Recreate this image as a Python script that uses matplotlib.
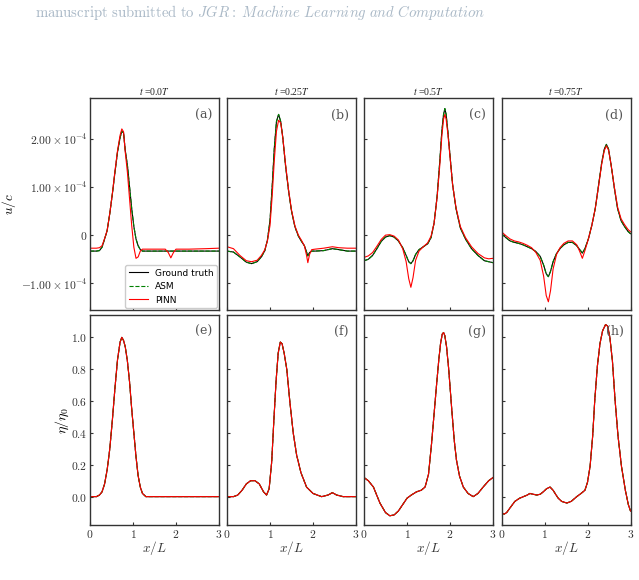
import numpy as np
import matplotlib
matplotlib.use('Agg')
import matplotlib.pyplot as plt

plt.rcParams['mathtext.fontset'] = 'cm'
plt.rcParams['font.family'] = 'DejaVu Serif'
plt.rcParams['axes.unicode_minus'] = True

# ---- donnees ----
titres = ['0.0', '0.25', '0.5', '0.75']
lettres_u = ['(a)', '(b)', '(c)', '(d)']
lettres_eta = ['(e)', '(f)', '(g)', '(h)']

# u/c (en 1e-4)
xa = [0, 0.15, 0.22, 0.28, 0.34, 0.40, 0.46, 0.52, 0.58, 0.64, 0.70, 0.74, 0.78, 0.82, 0.87,
      0.92, 0.97, 1.02, 1.07, 1.12, 1.17, 1.22, 1.30, 1.50, 1.75, 1.82, 1.88, 1.94, 2.00, 2.3, 2.7, 3.0]
ua_vrai = [-0.33, -0.33, -0.32, -0.25, -0.08, 0.10, 0.45, 0.85, 1.30, 1.72, 2.02, 2.15, 2.12, 1.75,
           1.45, 1.00, 0.55, 0.18, -0.08, -0.22, -0.30, -0.33, -0.33, -0.33, -0.33, -0.33, -0.33,
           -0.33, -0.33, -0.33, -0.33, -0.33]
ua_pinn = [-0.27, -0.27, -0.26, -0.22, -0.07, 0.10, 0.45, 0.86, 1.32, 1.75, 2.07, 2.20, 2.14, 1.72,
           1.30, 0.75, 0.20, -0.25, -0.48, -0.45, -0.33, -0.29, -0.29, -0.29, -0.29, -0.36, -0.47,
           -0.36, -0.29, -0.29, -0.28, -0.27]

xb = [0, 0.15, 0.30, 0.45, 0.57, 0.70, 0.80, 0.88, 0.94, 1.00, 1.05, 1.10, 1.15, 1.20, 1.25, 1.30,
      1.36, 1.43, 1.50, 1.58, 1.66, 1.74, 1.80, 1.85, 1.88, 1.92, 1.97, 2.05, 2.25, 2.45, 2.60, 2.80, 3.0]
ub_vrai = [-0.33, -0.35, -0.45, -0.56, -0.59, -0.55, -0.45, -0.32, -0.10, 0.30, 1.00, 1.80, 2.35,
           2.50, 2.35, 2.00, 1.45, 0.93, 0.50, 0.17, -0.02, -0.14, -0.22, -0.35, -0.43, -0.36, -0.33,
           -0.33, -0.32, -0.28, -0.30, -0.33, -0.33]
ub_pinn = [-0.24, -0.28, -0.42, -0.53, -0.55, -0.52, -0.42, -0.30, -0.12, 0.20, 0.80, 1.55, 2.15,
           2.38, 2.32, 2.00, 1.48, 0.95, 0.52, 0.19, 0.00, -0.12, -0.22, -0.42, -0.57, -0.40, -0.30,
           -0.29, -0.27, -0.24, -0.26, -0.27, -0.27]

xc = [0, 0.10, 0.20, 0.30, 0.40, 0.50, 0.60, 0.70, 0.80, 0.90, 0.98, 1.04, 1.09, 1.14, 1.20, 1.28,
      1.38, 1.48, 1.56, 1.63, 1.70, 1.76, 1.81, 1.85, 1.88, 1.91, 1.95, 2.00, 2.06, 2.14, 2.24, 2.36,
      2.50, 2.65, 2.80, 2.90, 3.0]
uc_vrai = [-0.53, -0.50, -0.42, -0.28, -0.13, -0.04, -0.01, -0.04, -0.12, -0.26, -0.42, -0.55, -0.59,
           -0.53, -0.40, -0.30, -0.24, -0.18, -0.05, 0.25, 0.80, 1.50, 2.15, 2.50, 2.62, 2.50, 2.15,
           1.65, 1.05, 0.55, 0.15, -0.08, -0.28, -0.42, -0.53, -0.55, -0.57]
uc_pinn = [-0.46, -0.43, -0.36, -0.23, -0.09, 0.00, 0.01, -0.02, -0.10, -0.28, -0.55, -0.90, -1.08,
           -0.88, -0.52, -0.33, -0.24, -0.16, -0.02, 0.25, 0.78, 1.42, 2.05, 2.40, 2.50, 2.40, 2.10,
           1.62, 1.05, 0.57, 0.18, -0.05, -0.24, -0.38, -0.47, -0.49, -0.48]

xd = [0, 0.10, 0.20, 0.30, 0.40, 0.50, 0.60, 0.70, 0.80, 0.90, 0.98, 1.04, 1.09, 1.14, 1.20, 1.28,
      1.36, 1.45, 1.55, 1.65, 1.75, 1.82, 1.88, 1.94, 2.02, 2.10, 2.18, 2.26, 2.33, 2.39, 2.44, 2.49,
      2.55, 2.62, 2.70, 2.78, 2.86, 2.94, 3.0]
ud_vrai = [0.03, -0.05, -0.12, -0.15, -0.17, -0.20, -0.24, -0.28, -0.34, -0.44, -0.62, -0.80, -0.86,
           -0.75, -0.55, -0.38, -0.28, -0.20, -0.15, -0.15, -0.22, -0.30, -0.37, -0.28, -0.08, 0.20,
           0.55, 1.05, 1.50, 1.78, 1.88, 1.78, 1.45, 1.00, 0.55, 0.30, 0.18, 0.08, 0.03]
ud_pinn = [0.07, -0.01, -0.08, -0.12, -0.14, -0.17, -0.21, -0.26, -0.36, -0.52, -0.85, -1.25, -1.38,
           -1.15, -0.70, -0.40, -0.26, -0.17, -0.12, -0.12, -0.20, -0.34, -0.48, -0.32, -0.08, 0.20,
           0.55, 1.03, 1.47, 1.75, 1.85, 1.76, 1.45, 1.02, 0.58, 0.34, 0.22, 0.12, 0.07]

# eta/eta0
xe = [0, 0.15, 0.22, 0.28, 0.34, 0.40, 0.46, 0.52, 0.58, 0.64, 0.70, 0.74, 0.78, 0.82, 0.87, 0.92,
      0.97, 1.02, 1.07, 1.12, 1.17, 1.22, 1.30, 1.5, 2.0, 2.5, 3.0]
eta_e = [0, 0, 0.01, 0.03, 0.08, 0.17, 0.30, 0.48, 0.68, 0.86, 0.97, 1.0, 0.98, 0.94, 0.85, 0.72,
         0.55, 0.40, 0.25, 0.13, 0.06, 0.02, 0.0, 0, 0, 0, 0]

xf = [0, 0.15, 0.25, 0.35, 0.45, 0.55, 0.65, 0.75, 0.85, 0.92, 0.98, 1.04, 1.09, 1.14, 1.19, 1.24,
      1.28, 1.33, 1.39, 1.46, 1.54, 1.62, 1.72, 1.85, 2.0, 2.2, 2.35, 2.45, 2.55, 2.7, 3.0]
eta_f = [0, 0, 0.01, 0.04, 0.08, 0.10, 0.10, 0.08, 0.03, 0.01, 0.05, 0.22, 0.48, 0.72, 0.90, 0.97,
         0.96, 0.90, 0.80, 0.60, 0.40, 0.26, 0.15, 0.06, 0.02, 0.0, 0.01, 0.025, 0.01, 0.0, 0.0]

xg = [0, 0.1, 0.22, 0.37, 0.50, 0.60, 0.70, 0.80, 0.90, 1.0, 1.10, 1.22, 1.33, 1.42, 1.50, 1.57, 1.63,
      1.69, 1.74, 1.78, 1.82, 1.85, 1.88, 1.92, 1.97, 2.04, 2.10, 2.15, 2.22, 2.31, 2.42, 2.54, 2.65,
      2.77, 2.90, 3.0]
eta_g = [0.12, 0.10, 0.06, -0.04, -0.10, -0.12, -0.115, -0.09, -0.05, -0.01, 0.01, 0.03, 0.04, 0.06,
         0.14, 0.33, 0.52, 0.71, 0.86, 0.96, 1.02, 1.03, 1.01, 0.94, 0.80, 0.55, 0.35, 0.23, 0.13,
         0.06, 0.02, 0.0, 0.02, 0.06, 0.10, 0.12]

xh = [0, 0.06, 0.12, 0.20, 0.31, 0.42, 0.51, 0.60, 0.66, 0.74, 0.82, 0.90, 0.97, 1.05, 1.13, 1.20,
      1.27, 1.32, 1.40, 1.52, 1.62, 1.75, 1.85, 1.94, 2.00, 2.06, 2.12, 2.17, 2.23, 2.29, 2.35, 2.42,
      2.47, 2.52, 2.58, 2.64, 2.71, 2.79, 2.88, 2.95, 3.0]
eta_h = [-0.10, -0.11, -0.10, -0.07, -0.03, -0.01, 0.0, 0.01, 0.02, 0.015, 0.01, 0.015, 0.03, 0.05,
         0.06, 0.04, 0.01, -0.01, -0.03, -0.04, -0.03, 0.0, 0.02, 0.04, 0.09, 0.19, 0.38, 0.61, 0.82,
         0.96, 1.04, 1.08, 1.07, 1.0, 0.85, 0.61, 0.38, 0.19, 0.04, -0.05, -0.09]

u_x = [xa, xb, xc, xd]
u_vrai = [ua_vrai, ub_vrai, uc_vrai, ud_vrai]
u_pinn = [ua_pinn, ub_pinn, uc_pinn, ud_pinn]
eta_x = [xe, xf, xg, xh]
eta_vals = [eta_e, eta_f, eta_g, eta_h]

# ---- figure ----
W, H = 639, 580
fig = plt.figure(figsize=(W / 100, H / 100), dpi=100)

fig.text(260 / W, 1 - 13 / H,
         r'$\mathrm{manuscript\ submitted\ to\ }\mathit{JGR{:}\ Machine\ Learning\ and\ Computation}$',
         ha='center', va='center', fontsize=10.6, color='#a9b8c6')

gauches = [90, 227, 364, 501.5]
larg = 129
gris = '#333333'


def style(ax):
    for s in ax.spines.values():
        s.set_color(gris)
        s.set_linewidth(1.0)
    ax.tick_params(direction='in', length=2.5, width=0.8, colors=gris, labelsize=8.3, pad=2)
    ax.set_xlim(0, 3)
    ax.set_xticks([0, 1, 2, 3])
    ax.set_xticklabels([r'$0$', r'$1$', r'$2$', r'$3$'])


for j in range(4):
    # ligne du haut : u/c
    ax = fig.add_axes([gauches[j] / W, (H - 310) / H, larg / W, 212 / H])
    style(ax)
    x = np.array(u_x[j])
    v = np.array(u_vrai[j]) * 1e-4
    p = np.array(u_pinn[j]) * 1e-4
    ax.plot(x, v, color='k', lw=0.8, label='Ground truth')
    ax.plot(x, v, color='green', lw=0.8, ls='--', label='ASM')
    ax.plot(x, p, color='red', lw=0.8, label='PINN')
    ax.set_ylim(-1.55e-4, 2.84e-4)
    ax.set_yticks([-1e-4, 0, 1e-4, 2e-4])
    ax.tick_params(labelbottom=False)
    if j == 0:
        ax.set_yticklabels([r'$-1.00\times10^{-4}$', r'$0$', r'$1.00\times10^{-4}$', r'$2.00\times10^{-4}$'])
        ax.set_ylabel(r'$u/c$', fontsize=9.5, labelpad=2)
        leg = ax.legend(loc='lower right', prop={'family': 'DejaVu Sans', 'size': 6.5},
                        borderaxespad=0.2, handlelength=2.1, framealpha=1, edgecolor='#cccccc')
    else:
        ax.tick_params(labelleft=False)
    ax.set_title(r'$t$ =' + titres[j] + r'$T$', fontsize=7, family='Liberation Serif',
                 math_fontfamily='stix', pad=2.5, color='#222222')
    ax.text(0.945, 0.92, lettres_u[j], transform=ax.transAxes, ha='right', va='center',
            fontsize=9, color='#555555')

    # ligne du bas : eta
    ax2 = fig.add_axes([gauches[j] / W, (H - 525) / H, larg / W, 210 / H])
    style(ax2)
    xe_ = np.array(eta_x[j])
    e = np.array(eta_vals[j])
    ax2.plot(xe_, e, color='k', lw=0.8)
    ax2.plot(xe_, e, color='green', lw=0.8, ls='--')
    ax2.plot(xe_, e, color='red', lw=0.8)
    ax2.set_ylim(-0.178, 1.14)
    ax2.set_yticks([0, 0.2, 0.4, 0.6, 0.8, 1.0])
    if j == 0:
        ax2.set_yticklabels([r'$0.0$', r'$0.2$', r'$0.4$', r'$0.6$', r'$0.8$', r'$1.0$'])
        ax2.set_ylabel(r'$\eta/\eta_0$', fontsize=10, labelpad=0)
    else:
        ax2.tick_params(labelleft=False)
    ax2.set_xlabel(r'$x/L$', fontsize=9.5, labelpad=-1, color=gris)
    ax2.text(0.945, 0.92, lettres_eta[j], transform=ax2.transAxes, ha='right', va='center',
             fontsize=9, color='#555555')

fig.savefig('out.png', dpi=100)
